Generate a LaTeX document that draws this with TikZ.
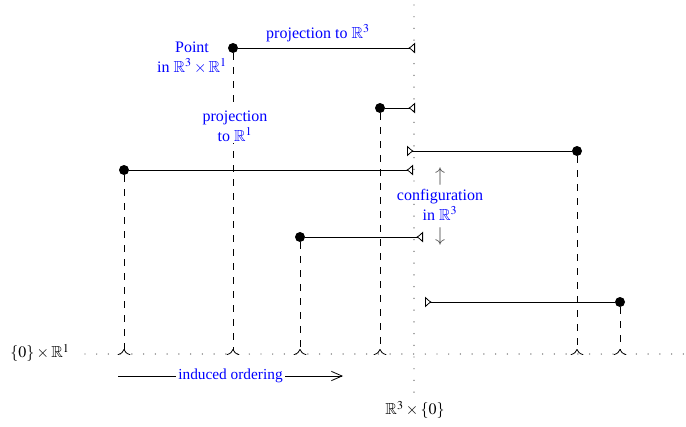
\documentclass[tikz,border=0pt]{standalone}
\usepackage{mathptmx}
\usepackage{amssymb}
\usepackage{fontspec}
\setmainfont{Liberation Serif}
\usetikzlibrary{arrows.meta}
\begin{document}
\begin{tikzpicture}[x=0.75pt,y=-0.75pt,font=\fontsize{12}{15}\selectfont,
  dotpt/.style={circle,fill=black,inner sep=0pt,minimum size=7.5pt},
  projline/.style={line width=0.6pt,-{Latex[open,reversed,length=5pt,width=8.5pt]}},
  dropline/.style={line width=0.6pt,dash pattern=on 5pt off 5.5pt,-{To[reversed,length=4.5pt,width=9.5pt]}},
  axisline/.style={black!60,line width=1.1pt,dash pattern=on 0pt off 8.8pt,line cap=round},
  lbl/.style={text=blue}]
\useasboundingbox (0,0) rectangle (686,426);
% axes
\coordinate (vt) at (414,5);
\coordinate (vb) at (414,395);
\coordinate (ha) at (85,354);
\coordinate (hb) at (686,354);
\draw[axisline] (vt) -- (vb);
\draw[axisline] (ha) -- (hb);
% points
\node[dotpt] (p1) at (233,48) {};
\node[dotpt] (p2) at (380,108) {};
\node[dotpt] (p3) at (577,151) {};
\node[dotpt] (p4) at (124,170) {};
\node[dotpt] (p5) at (300,237) {};
\node[dotpt] (p6) at (620,302) {};
% projections to R^3
\coordinate (t1) at (415,48);
\coordinate (t2) at (415,108);
\coordinate (t3) at (407,151);
\coordinate (t4) at (413,170);
\coordinate (t5) at (423,237);
\coordinate (t6) at (425,302);
% projections to R^1
\coordinate (b1) at (233,355);
\coordinate (b2) at (380,355);
\coordinate (b3) at (577,355);
\coordinate (b4) at (124,355);
\coordinate (b5) at (300,355);
\coordinate (b6) at (620,355);
\foreach \i in {1,...,6}{
  \draw[dropline] (p\i) -- (b\i);
  \draw[projline] (p\i) -- (t\i);
}
% labels
\node[lbl,align=center] (lpt) at (192,58) {Point\\in $\mathbb{R}^3\times\mathbb{R}^1$};
\node[lbl] (lp3) at (318,33) {projection to $\mathbb{R}^3$};
\node[lbl,align=center,fill=white,inner sep=1pt] (lp1) at (235,126) {projection\\to $\mathbb{R}^1$};
\node[lbl,align=center] (lcf) at (440,205) {configuration\\in $\mathbb{R}^3$};
\node[text=black!70,font=\fontsize{15}{15}\selectfont] (up) at (440,176) {$\uparrow$};
\node[text=black!70,font=\fontsize{15}{15}\selectfont] (dn) at (440,236) {$\downarrow$};
\node (l0) at (40,353) {$\{0\}\times\mathbb{R}^1$};
\node (l3) at (415,410) {$\mathbb{R}^3\times\{0\}$};
\coordinate (io1) at (118,376);
\coordinate (io2) at (343,376);
\draw[line width=0.6pt,-{Straight Barb[length=8pt,width=7pt]}] (io1) -- node[lbl,fill=white,inner sep=2pt,font=\fontsize{11.5}{14}\selectfont] (lio) {induced ordering} (io2);
\end{tikzpicture}
\end{document}
